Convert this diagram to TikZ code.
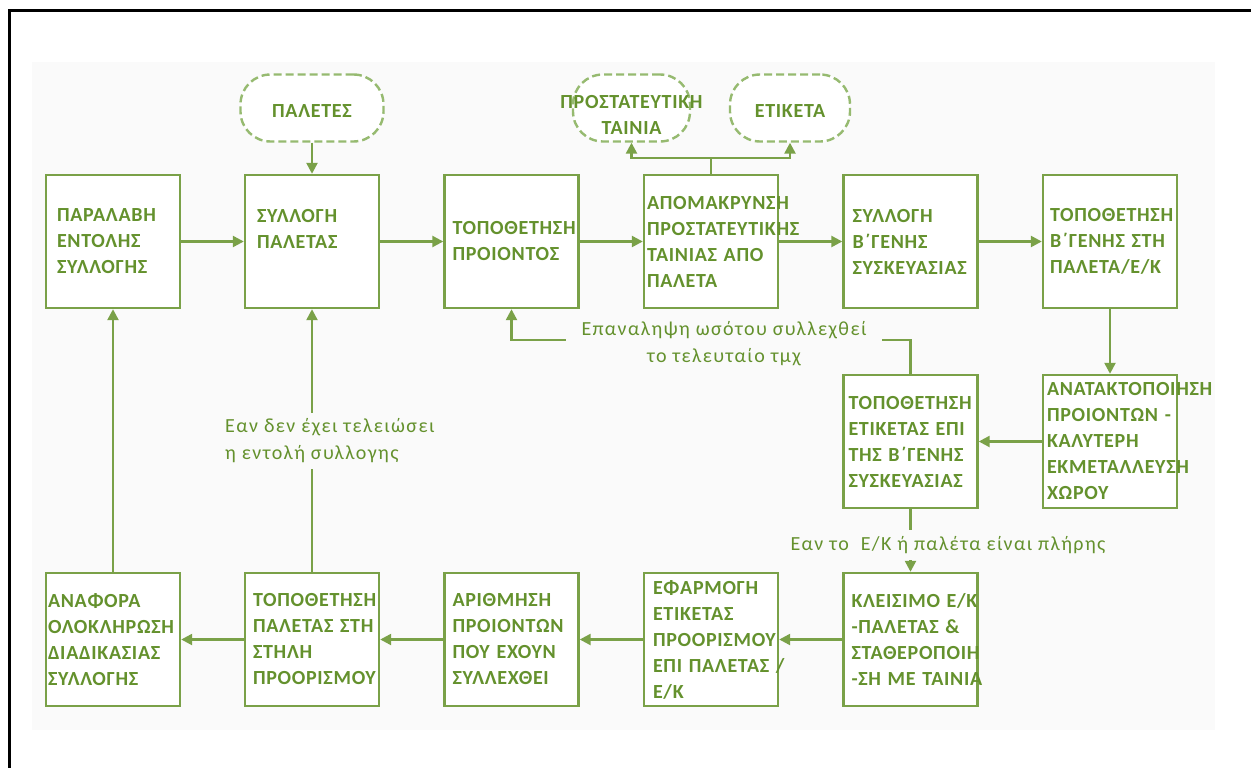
\documentclass[tikz,border=0pt]{standalone}
\usepackage{fontspec}
\setmainfont{Carlito}
\newfontfamily\procfont{Carlito}[LetterSpace=3.5]
\newfontfamily\notefont{Carlito}[LetterSpace=7]
\usetikzlibrary{arrows.meta}
\definecolor{flowline}{RGB}{122,161,72}
\definecolor{flowtext}{RGB}{100,145,45}
\definecolor{termline}{RGB}{150,186,112}
\definecolor{sheet}{RGB}{250,250,250}
\tikzset{
  % left inset of the text inside a 134pt wide process box
  pad/.code={%
    \pgfmathsetmacro\padtw{134-2*#1}%
    \pgfkeysalso{inner xsep=#1pt}%
    \edef\padset{\noexpand\pgfkeysalso{text width=\padtw pt}}\padset},
  proc/.style={draw=flowline, line width=2.4pt, fill=white,
    minimum width=134pt, minimum height=133pt, pad=8,
    inner ysep=0pt, align=left, text=flowtext,
    font=\procfont\bfseries\fontsize{20}{26}\selectfont},
  term/.style={draw=termline, dash pattern=on 8pt off 4pt, line width=2.4pt,
    fill=white, rounded corners=30pt, minimum height=67pt, inner sep=0pt,
    align=center, text=flowtext,
    font=\procfont\bfseries\fontsize{20}{25}\selectfont},
  note/.style={fill=sheet, text=flowtext, inner xsep=16pt, inner ysep=6pt,
    font=\notefont\fontsize{20}{27}\selectfont},
  link/.style={draw=flowline, line width=2.4pt},
  flow/.style={link, -{Triangle[length=11pt,width=11pt]}},
}
\begin{document}
\begin{tikzpicture}[x=1pt, y=-1pt]
\useasboundingbox (0,0) rectangle (1251,768);
\clip (0,0) rectangle (1251,768);
% page frame and faint sheet
\fill[sheet] (32,62) rectangle (1215,730);
\draw[line width=3pt] (9,790) -- (9,11) -- (1270,11);

% supplies and outputs
\node[term, minimum width=143pt] (pal)  at (312,108)   {\rule{0pt}{19pt}ΠΑΛΕΤΕΣ};
\node[term, minimum width=117pt] (tape) at (631.5,108) {\rule{0pt}{27pt}\makebox[0pt]{ΠΡΟΣΤΑΤΕΥΤΙΚΗ}\\\makebox[0pt]{ΤΑΙΝΙΑ}};
\node[term, minimum width=120pt] (lab)  at (790,108)   {\rule{0pt}{19pt}ΕΤΙΚΕΤΑ};

% top row
\node[proc, pad=11] (b1) at (113,241.5)   {ΠΑΡΑΛΑΒΗ\\ΕΝΤΟΛΗΣ\\ΣΥΛΛΟΓΗΣ};
\node[proc, pad=12] (b2) at (312,241.5)   {ΣΥΛΛΟΓΗ\\ΠΑΛΕΤΑΣ\\\mbox{}};
\node[proc, pad=8]  (b3) at (511.5,241.5) {ΤΟΠΟΘΕΤΗΣΗ\\ΠΡΟΙΟΝΤΟΣ};
\node[proc, pad=3]  (b4) at (711,241.5)   {ΑΠΟΜΑΚΡΥΝΣΗ\\ΠΡΟΣΤΑΤΕΥΤΙΚΗΣ\\\mbox{ΤΑΙΝΙΑΣ ΑΠΟ}\\ΠΑΛΕΤΑ};
\node[proc, pad=9]  (b5) at (910.5,241.5) {ΣΥΛΛΟΓΗ\\Β΄ΓΕΝΗΣ\\ΣΥΣΚΕΥΑΣΙΑΣ};
\node[proc, pad=7]  (b6) at (1110,241.5)  {ΤΟΠΟΘΕΤΗΣΗ\\\mbox{Β΄ΓΕΝΗΣ ΣΤΗ}\\ΠΑΛΕΤΑ/Ε/Κ};

% middle row
\node[proc, pad=5] (b7) at (910.5,441.5) {ΤΟΠΟΘΕΤΗΣΗ\\\mbox{ΕΤΙΚΕΤΑΣ ΕΠΙ}\\\mbox{ΤΗΣ Β΄ΓΕΝΗΣ}\\ΣΥΣΚΕΥΑΣΙΑΣ};
\node[proc, pad=4] (b8) at (1110,441.5)  {ΑΝΑΤΑΚΤΟΠΟΙΗΣΗ\\\mbox{ΠΡΟΙΟΝΤΩΝ -}\\ΚΑΛΥΤΕΡΗ\\ΕΚΜΕΤΑΛΛΕΥΣΗ\\ΧΩΡΟΥ};

% bottom row
\node[proc, pad=2] (b9)  at (113,639.5)   {ΑΝΑΦΟΡΑ\\ΟΛΟΚΛΗΡΩΣΗ\\ΔΙΑΔΙΚΑΣΙΑΣ\\ΣΥΛΛΟΓΗΣ};
\node[proc, pad=8] (b10) at (312,639.5)   {ΤΟΠΟΘΕΤΗΣΗ\\\mbox{ΠΑΛΕΤΑΣ ΣΤΗ}\\ΣΤΗΛΗ\\ΠΡΟΟΡΙΣΜΟΥ};
\node[proc, pad=8] (b11) at (511.5,639.5) {ΑΡΙΘΜΗΣΗ\\ΠΡΟΙΟΝΤΩΝ\\\mbox{ΠΟΥ ΕΧΟΥΝ}\\ΣΥΛΛΕΧΘΕΙ};
\node[proc, pad=9] (b12) at (711,639.5)   {ΕΦΑΡΜΟΓΗ\\ΕΤΙΚΕΤΑΣ\\ΠΡΟΟΡΙΣΜΟΥ\\\mbox{ΕΠΙ ΠΑΛΕΤΑΣ /}\\Ε/Κ};
\node[proc, pad=8] (b13) at (910.5,639.5) {\mbox{ΚΛΕΙΣΙΜΟ Ε/Κ}\\\mbox{-ΠΑΛΕΤΑΣ \&}\\ΣΤΑΘΕΡΟΠΟΙΗ\\\mbox{-ΣΗ ΜΕ ΤΑΙΝΙΑ}};

% main flow
\draw[flow] (pal) -- (b2);
\draw[flow] (b1) -- (b2);
\draw[flow] (b2) -- (b3);
\draw[flow] (b3) -- (b4);
\draw[flow] (b4) -- (b5);
\draw[flow] (b5) -- (b6);
\draw[link] (b4.north) -- ++(0,-16) coordinate (fork);
\draw[flow] (fork) -| (tape.south);
\draw[flow] (fork) -| (lab.south);
\draw[flow] (b6) -- (b8);
\draw[flow] (b8) -- (b7);
\draw[flow] (b7) -- (b13);
\draw[flow] (b13) -- (b12);
\draw[flow] (b12) -- (b11);
\draw[flow] (b11) -- (b10);
\draw[flow] (b10) -- (b9);
\draw[flow] (b9) -- (b1);
\draw[flow] (b10) -- (b2);
\draw[flow] (b7.north) -- ++(0,-34) -| (b3.south);

% conditions on the loops
\node[note, align=center] (repeat) at (724,344) {Επαναληψη ωσότου συλλεχθεί\\το τελευταίο τμχ};
\node[note, align=left, anchor=west, inner xsep=0pt] (notdone) at (225,441) {Εαν δεν έχει τελειώσει\\η εντολή συλλογης};
\node[note, inner xsep=4pt] (full) at (948,545) {Εαν το \ Ε/Κ ή παλέτα είναι πλήρης};
\end{tikzpicture}
\end{document}
